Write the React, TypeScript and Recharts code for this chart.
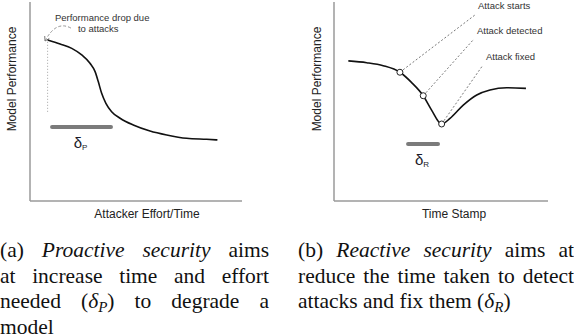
import { LineChart, Line, XAxis, YAxis, ReferenceLine, ReferenceDot, Label } from 'recharts';

// (a) proactive: performance vs attacker effort
const proactiveEffort = [8.3, 14.2, 19.7, 24.4, 28.3, 30.7, 32.2, 33.8, 35.8, 38.5, 42.5, 48.7, 56.6, 64.5, 73.9, 83.3, 88.4];
const proactivePerf = [80.9, 78.9, 76.7, 73.4, 69.2, 65, 60, 54.1, 49.1, 44.9, 41.6, 38.2, 35.2, 33.2, 31.5, 31, 30.7];

// (b) reactive: performance over time
const reactiveTime = [6.7, 15.3, 23, 30.8, 36.3, 41.7, 45.6, 50.3, 54.2, 60.4, 66.7, 72.9, 80.7, 89.7];
const reactivePerf = [70.4, 69.5, 68, 64.7, 59.5, 52.9, 45.7, 38.7, 41.5, 48.2, 53.3, 55.8, 56.9, 56.6];

// events marked on the reactive curve (index into the arrays above)
const eventNames = ['Attack starts', 'Attack detected', 'Attack fixed'];
const eventIndex = [3, 5, 7];
const eventLabelTime = [65.9, 65.4, 69.6];
const eventLabelPerf = [93.5, 81.4, 68.3];

// delta bars [from, to] and their level
const deltaP = [10.4, 38.2];
const deltaPLevel = 37.2;
const deltaR = [34.6, 48.6];
const deltaRLevel = 28.6;

// drop annotation in (a): arrow from text to curve start, dotted guide down
const dropArrowFrom = { x: 19.3, y: 86.9 };
const dropArrowTo = { x: 7.1, y: 80.4 };
const dropGuide = [80, 44];

const axisGray = '#9a9a9a';
const sans = '"Liberation Sans", Arial, sans-serif';

const proactiveData = proactiveEffort.map((x, i) => ({ x, perf: proactivePerf[i] }));
const reactiveData = reactiveTime.map((x, i) => ({ x, perf: reactivePerf[i] }));

const yTitle = (dx: number) => (props: any) => {
  const vb = props.viewBox || { x: 0, y: 0, width: 30, height: 199 };
  const x = vb.x + vb.width / 2 + dx;
  const y = vb.y + vb.height * 0.387;
  return (
    <text x={x} y={y} transform={`rotate(-90, ${x}, ${y})`} textAnchor="middle" dominantBaseline="central"
      fontSize={12} fill="#222" fontFamily={sans}>
      Model Performance
    </text>
  );
};

const xTitle = (text: string, dx: number) => (props: any) => {
  const vb = props.viewBox || { x: 0, y: 0, width: 200, height: 29 };
  return (
    <text x={vb.x + vb.width / 2 + dx} y={vb.y + 17} textAnchor="middle" fontSize={12} fill="#222" fontFamily={sans}>
      {text}
    </text>
  );
};

const deltaBar = (sub: string) => (props: any) => {
  const { x1, y1, x2, y2 } = props;
  const cx = (x1 + x2) / 2;
  return (
    <g>
      <line x1={x1} y1={y1} x2={x2} y2={y2} stroke="#7b7b7b" strokeWidth={4} strokeLinecap="round" />
      <text x={cx - 1} y={y1 + 21} textAnchor="middle" fontSize={15} fill="#1c1c2a" fontFamily={sans}>
        δ<tspan fontSize={8} dy={2}>{sub}</tspan>
      </text>
    </g>
  );
};

const leader = (name: string) => (props: any) => {
  const { x1, y1, x2, y2 } = props;
  return (
    <g>
      <line x1={x1} y1={y1} x2={x2} y2={y2} stroke="#555" strokeWidth={0.8} strokeDasharray="2 2" />
      <text x={x2 + 3} y={y2 - 5.5} fontSize={9.5} fill="#333" fontFamily={sans}>{name}</text>
    </g>
  );
};

const dropArrow = (props: any) => {
  const { x1, y1, x2, y2 } = props;
  const cx = (x1 + x2) / 2 - 2;
  const cy = Math.min(y1, y2) - 8;
  const ang = Math.atan2(y2 - cy, x2 - cx);
  const a1 = ang + Math.PI - 0.55;
  const a2 = ang + Math.PI + 0.55;
  return (
    <g>
      <path d={`M${x1},${y1} Q${cx},${cy} ${x2},${y2}`} fill="none" stroke="#888" strokeWidth={0.9} strokeDasharray="3 2" />
      <path d={`M${x2 + 5 * Math.cos(a1)},${y2 + 5 * Math.sin(a1)} L${x2},${y2} L${x2 + 5 * Math.cos(a2)},${y2 + 5 * Math.sin(a2)}`}
        fill="none" stroke="#777" strokeWidth={1} />
      <text x={x1 - 16} y={y1 - 7.5} fontSize={9.5} fill="#333" fontFamily={sans}>Performance drop due</text>
      <text x={x1 + 7} y={y1 + 3.5} fontSize={9.5} fill="#333" fontFamily={sans}>to attacks</text>
    </g>
  );
};

function ProactiveChart() {
  return (
    <LineChart width={250} height={230} data={proactiveData} margin={{ top: 2, right: 8, bottom: 0, left: 0 }}>
      <XAxis type="number" dataKey="x" domain={[0, 100]} allowDataOverflow tick={false} tickLine={false} height={29}
        axisLine={{ stroke: axisGray, strokeWidth: 1.5 }}>
        <Label content={xTitle('Attacker Effort/Time', 11)} />
      </XAxis>
      <YAxis type="number" domain={[0, 100]} allowDataOverflow tick={false} tickLine={false} width={30}
        axisLine={{ stroke: axisGray, strokeWidth: 1.5 }}>
        <Label content={yTitle(-3)} />
      </YAxis>
      <ReferenceLine ifOverflow="visible"
        segment={[{ x: proactiveEffort[0], y: dropGuide[0] }, { x: proactiveEffort[0], y: dropGuide[1] }]}
        stroke="#999" strokeWidth={0.9} strokeDasharray="1 2" />
      <ReferenceLine ifOverflow="visible" segment={[dropArrowFrom, dropArrowTo]} shape={dropArrow} />
      <ReferenceLine ifOverflow="visible"
        segment={[{ x: deltaP[0], y: deltaPLevel }, { x: deltaP[1], y: deltaPLevel }]} shape={deltaBar('P')} />
      <Line type="monotone" dataKey="perf" stroke="#111" strokeWidth={1.6} dot={false} isAnimationActive={false} />
    </LineChart>
  );
}

function ReactiveChart() {
  return (
    <LineChart width={284} height={230} data={reactiveData} margin={{ top: 2, right: 26, bottom: 0, left: 0 }}>
      <XAxis type="number" dataKey="x" domain={[0, 100]} allowDataOverflow tick={false} tickLine={false} height={29}
        axisLine={{ stroke: axisGray, strokeWidth: 1.5 }}>
        <Label content={xTitle('Time Stamp', 13)} />
      </XAxis>
      <YAxis type="number" domain={[0, 100]} allowDataOverflow tick={false} tickLine={false} width={44}
        axisLine={{ stroke: axisGray, strokeWidth: 1.5 }}>
        <Label content={yTitle(5)} />
      </YAxis>
      {eventNames.map((name, i) => (
        <ReferenceLine key={name} ifOverflow="visible"
          segment={[
            { x: reactiveTime[eventIndex[i]], y: reactivePerf[eventIndex[i]] },
            { x: eventLabelTime[i], y: eventLabelPerf[i] },
          ]}
          shape={leader(name)} />
      ))}
      <ReferenceLine ifOverflow="visible"
        segment={[{ x: deltaR[0], y: deltaRLevel }, { x: deltaR[1], y: deltaRLevel }]} shape={deltaBar('R')} />
      <Line type="monotone" dataKey="perf" stroke="#111" strokeWidth={1.6} dot={false} isAnimationActive={false} />
      {eventIndex.map((idx) => (
        <ReferenceDot key={idx} x={reactiveTime[idx]} y={reactivePerf[idx]} r={3} fill="#fff" stroke="#222"
          strokeWidth={1} ifOverflow="visible" />
      ))}
    </LineChart>
  );
}

const serif = '"Liberation Serif", "Times New Roman", serif';
const just: any = { textAlign: 'justify', textAlignLast: 'justify', whiteSpace: 'normal' };
const sub = (s: string) => (
  <>
    (<i>δ</i>
    <span style={{ fontSize: '0.7em', fontStyle: 'italic', verticalAlign: '-0.25em', lineHeight: 0 }}>{s}</span>)
  </>
);

export default function App() {
  const capStyle: any = { position: 'absolute', top: 238, fontFamily: serif, fontSize: 21.5, lineHeight: '25.5px', color: '#111' };
  return (
    <div style={{ position: 'absolute', left: 0, top: 0, width: 574, height: 336, background: '#fff', overflow: 'hidden' }}>
      <div style={{ position: 'absolute', left: 0, top: 0 }}>
        <ProactiveChart />
      </div>
      <div style={{ position: 'absolute', left: 290, top: 0 }}>
        <ReactiveChart />
      </div>
      <div style={{ ...capStyle, left: 0, width: 269 }}>
        <div style={just}>(a) <i>Proactive security</i> aims</div>
        <div style={just}>at increase time and effort</div>
        <div style={just}>needed {sub('P')} to degrade a</div>
        <div>model</div>
      </div>
      <div style={{ ...capStyle, left: 298, width: 276 }}>
        <div style={just}>(b) <i>Reactive security</i> aims at</div>
        <div style={just}>reduce the time taken to detect</div>
        <div>attacks and fix them {sub('R')}</div>
      </div>
    </div>
  );
}
